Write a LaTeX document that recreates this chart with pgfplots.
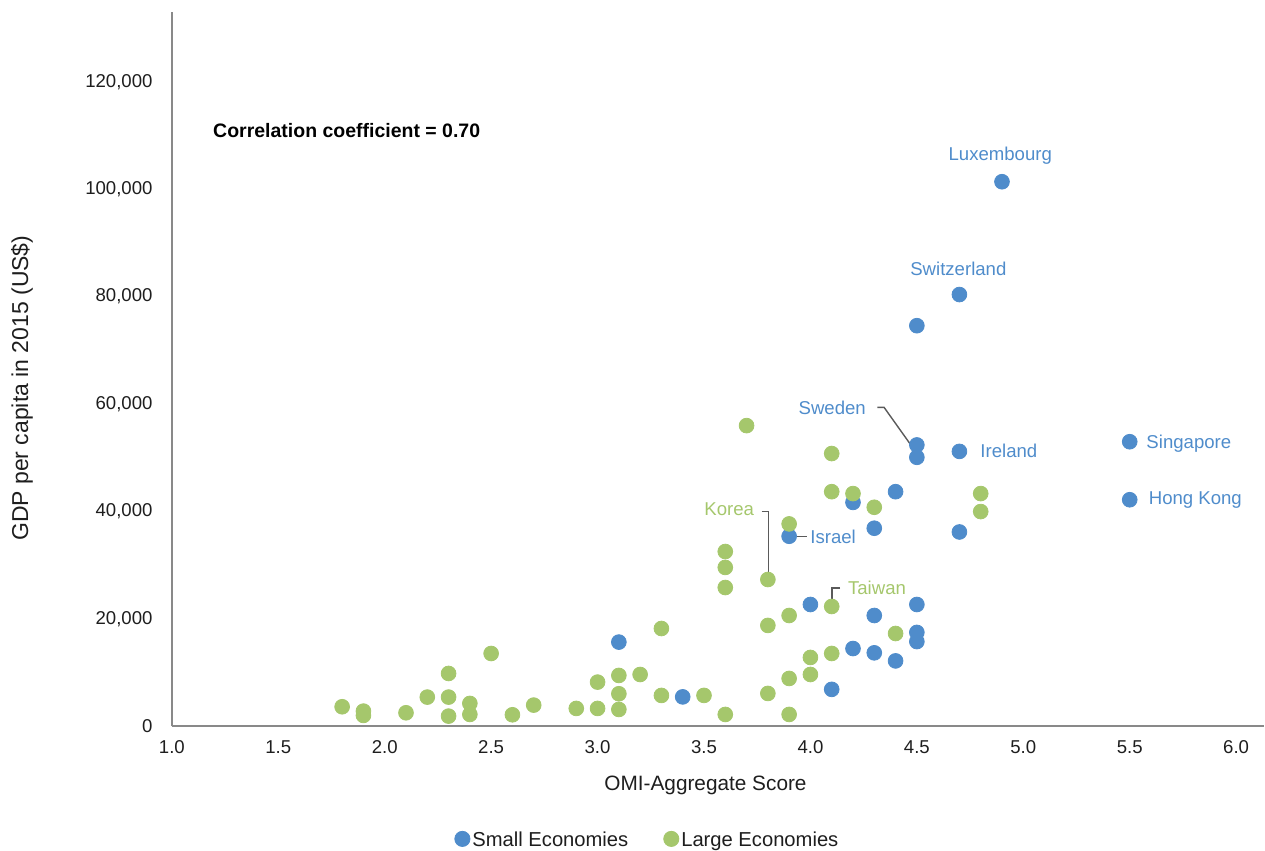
\documentclass[border=0pt]{standalone}
\usepackage{pgfplots}
\usepackage{pgfplotstable}
\pgfplotsset{compat=1.18}
\usepackage{fontspec}
\setmainfont{Liberation Sans}
\definecolor{sblue}{RGB}{79,140,203}
\definecolor{sgreen}{RGB}{165,199,108}
\definecolor{axgray}{RGB}{137,137,137}
\definecolor{lead}{RGB}{90,90,90}
\definecolor{txt}{RGB}{30,30,30}

\pgfplotstableread{
x y
4.9 101400
4.7 80400
4.5 74600
4.5 52400
4.5 50100
4.7 51200
5.5 53000
5.5 42200
4.4 43700
4.2 41700
4.3 36900
4.7 36200
3.9 35400
4.0 22700
4.3 20650
4.5 22700
4.5 17500
4.5 15800
4.2 14500
4.3 13700
4.4 12200
4.1 6900
3.1 15700
3.4 5500
}\smalltab

\pgfplotstableread{
x y
1.8 3660
1.9 2850
1.9 2050
2.1 2540
2.2 5460
2.3 9860
2.3 5460
2.3 1920
2.4 4280
2.4 2230
2.5 13580
2.6 2170
2.7 3970
2.9 3350
3.0 8250
3.0 3350
3.1 9490
3.1 6080
3.1 3160
3.2 9670
3.3 18230
3.3 5770
3.5 5770
3.6 32560
3.6 29600
3.6 25860
3.6 2230
3.7 56000
3.8 27350
3.8 18800
3.8 6140
3.9 37700
3.9 20650
3.9 8930
3.9 2230
4.0 12840
4.0 9670
4.1 50800
4.1 43700
4.1 22330
4.1 13580
4.2 43350
4.3 40800
4.4 17300
4.8 43350
4.8 40000
}\largetab

\begin{document}
\begin{tikzpicture}[font=\fontsize{9.75}{11.7}\selectfont]
\begin{axis}[
  name=ax,
  scale only axis,
  width=546.5pt, height=357.5pt,
  xmin=1, xmax=6.131, ymin=0, ymax=133000,
  axis x line*=bottom, axis y line*=left,
  axis line style={axgray, line width=1pt},
  major tick length=0pt,
  xtick={1,1.5,2,2.5,3,3.5,4,4.5,5,5.5,6},
  ytick={0,20000,40000,60000,80000,100000,120000},
  scaled y ticks=false,
  xticklabel style={/pgf/number format/fixed, /pgf/number format/fixed zerofill, /pgf/number format/precision=1, /pgf/number format/assume math mode=true},
  yticklabel style={/pgf/number format/fixed, /pgf/number format/1000 sep={,}, /pgf/number format/assume math mode=true},
  tick label style={text=txt, inner sep=0pt, font=\fontsize{9.3}{11}\selectfont},
  x tick label style={anchor=north, yshift=-7pt},
  y tick label style={anchor=east, xshift=-9.5pt},
  xlabel={OMI-Aggregate Score},
  ylabel={GDP per capita in 2015 (US\$)},
  xlabel style={at={(axis description cs:0.4886,-0.0825)}, anchor=center, text=txt, inner sep=0pt, font=\fontsize{10.4}{12.5}\selectfont},
  ylabel style={at={(axis description cs:-0.1372,0.4734)}, anchor=center, text=txt, inner sep=0pt, font=\fontsize{11.5}{13.8}\selectfont},
  clip=false,
  legend columns=2,
  legend style={at={(axis description cs:0.4345,-0.1594)}, anchor=center, draw=none,
    font=\fontsize{10.1}{12}\selectfont, text=txt,
    nodes={inner sep=0pt},
    /tikz/every odd column/.append style={column sep=1pt},
    /tikz/every even column/.append style={column sep=17.5pt},
    inner sep=0pt},
  legend image code/.code={\fill[#1] (0pt,1pt) circle (3.8pt);},
]
% leader lines (under markers)
\draw[lead, line width=0.7pt] (axis cs:4.315,59400) -- (axis cs:4.346,59400) -- (axis cs:4.47,52500);
\draw[lead, line width=0.7pt] (axis cs:3.93,35400) -- (axis cs:3.985,35400);
\draw[lead, line width=0.7pt] (axis cs:3.771,40060) -- (axis cs:3.804,40060) -- (axis cs:3.804,28600);
\draw[lead, line width=0.7pt] (axis cs:4.139,25800) -- (axis cs:4.101,25800) -- (axis cs:4.101,23630);

\addplot[only marks, mark=*, color=sblue, mark size=3.7pt] table[x=x,y=y] {\smalltab};
\addlegendentry{Small Economies}
\addplot[only marks, mark=*, color=sgreen, mark size=3.7pt] table[x=x,y=y] {\largetab};
\addlegendentry{Large Economies}

\node[anchor=west, inner sep=0pt, font=\fontsize{9.75}{11.7}\selectfont\bfseries, text=black] at (axis cs:1.1925,110880) {Correlation coefficient = 0.70};

\begin{scope}[every node/.style={inner sep=0pt, font=\fontsize{9.3}{11}\selectfont}]
\node[text=sblue] at (axis cs:4.892,106300) {Luxembourg};
\node[text=sblue] at (axis cs:4.695,85200) {Switzerland};
\node[text=sblue, anchor=east] at (axis cs:4.262,59350) {Sweden};
\node[text=sblue, anchor=west] at (axis cs:4.797,51220) {Ireland};
\node[text=sblue, anchor=west] at (axis cs:5.577,52650) {Singapore};
\node[text=sblue, anchor=west] at (axis cs:5.588,42100) {Hong Kong};
\node[text=sblue, anchor=west] at (axis cs:3.998,35300) {Israel};
\node[text=sgreen, anchor=east] at (axis cs:3.737,40370) {Korea};
\node[text=sgreen, anchor=west] at (axis cs:4.175,25800) {Taiwan};
\end{scope}

\path (axis description cs:-0.15737,-0.17343) rectangle (axis description cs:1.0,1.01678);
\end{axis}
\end{tikzpicture}
\end{document}
